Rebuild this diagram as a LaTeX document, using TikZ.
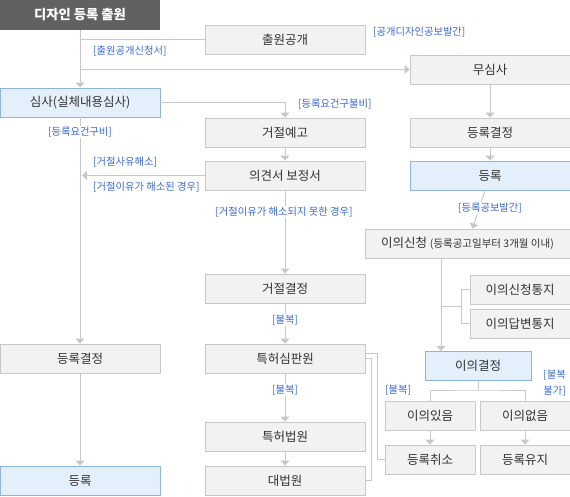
\documentclass[tikz,border=0pt]{standalone}
\usepackage{fontspec}
\setmainfont{Noto Sans CJK KR}
\usepackage{tikz}
\usetikzlibrary{arrows.meta,calc}
\definecolor{HdrFill}{RGB}{97,97,97}
\definecolor{BoxFill}{RGB}{242,242,242}
\definecolor{BoxLine}{RGB}{200,200,200}
\definecolor{RegFill}{RGB}{228,239,252}
\definecolor{RegLine}{RGB}{143,180,220}
\definecolor{LblCol} {RGB}{58,104,210}
\definecolor{TxtCol} {RGB}{51,51,51}
\tikzset{
  nd_hdr/.style={
    rectangle, fill=HdrFill, text=white,
    minimum width=160pt, minimum height=30pt, inner sep=0pt,
    font=\fontsize{13.3}{15}\selectfont\bfseries},
  nd_box/.style={
    rectangle, draw=BoxLine, fill=BoxFill, line width=0.9pt, text=TxtCol,
    minimum width=160pt, minimum height=29pt, inner sep=0pt,
    font=\fontsize{12.5}{14}\selectfont},
  nd_reg/.style={
    nd_box, draw=RegLine, fill=RegFill},
  ln/.style={draw=BoxLine, line width=0.9pt},
  arr/.style={ln, -{Triangle[length=5pt,width=9pt,fill=BoxLine]}},
  lbl/.style={font=\fontsize{10.3}{16}\selectfont, text=LblCol, inner sep=1pt},
  lblw/.style={lbl, fill=white},
}

\begin{document}
\begin{tikzpicture}[x=1pt,y=-1pt]
\useasboundingbox (0,0) rectangle (570,496);

%% 3 columns:  80 | 285 | 490
\def\cA{80}\def\cB{285}\def\cC{490}

%% left column
\node[nd_hdr] at (\cA,15)    (T){디자인 등록 출원};
\node[nd_reg] at (\cA,102.5) (EXAM){심사(실체내용심사)};
\node[nd_box] at (\cA,358.5) (DEC2){등록결정};
\node[nd_reg] at (\cA,480.5) (REG2){등록};

%% middle column
\node[nd_box] at (\cB,39.5)  (PUB){출원공개};
\node[nd_box] at (\cB,132.5) (REJN){거절예고};
\node[nd_box] at (\cB,175.5) (OPIN){의견서 보정서};
\node[nd_box] at (\cB,288.5) (REJD){거절결정};
\node[nd_box] at (\cB,358.5) (TRIB){특허심판원};
\node[nd_box] at (\cB,436.5) (PAT){특허법원};
\node[nd_box] at (\cB,480.5) (SUP){대법원};

%% right column
\node[nd_box] at (\cC,69.5)  (NOEX){무심사};
\node[nd_box] at (\cC,132.5) (DEC1){등록결정};
\node[nd_reg] at (\cC,175.5) (REG1){등록};
\node[nd_box, minimum width=205pt] at (467.5,243.5) (OPP)
  {이의신청 {\fontsize{10.5}{12}\selectfont(등록공고일부터 3개월 이내)}};
\node[nd_box, minimum width=100pt] at (520,289.5) (N1){이의신청통지};
\node[nd_box, minimum width=100pt] at (520,323.5) (N2){이의답변통지};
\node[nd_reg, minimum width=106pt] at (478,366)   (OPD){이의결정};
\node[nd_box, minimum width=90pt]  at (430,415.5) (YES){이의있음};
\node[nd_box, minimum width=90pt]  at (525,415.5) (NO){이의없음};
\node[nd_box, minimum width=90pt]  at (430,459.5) (CANC){등록취소};
\node[nd_box, minimum width=90pt]  at (525,459.5) (KEEP){등록유지};

%% junctions
\coordinate (j1) at (\cA,39.5);
\coordinate (j2) at (\cA,69.5);
\coordinate (oq) at ([xshift=-26.5pt]OPP.south);
\coordinate (nj) at (462,306.5);
\coordinate (dj) at (478,390);

%% arrows
\draw[arr] (T)--(EXAM);
\draw[ln]  (j1)--(PUB.west);
\draw[arr] (j2)--(NOEX.west);
\draw[arr] (EXAM.east) -| (REJN.north);
\draw[arr] (REJN)--(OPIN);
\draw[arr] (OPIN.west)--([xshift=2pt]OPIN.west -| EXAM.south);
\draw[arr] (EXAM)--(DEC2);
\draw[arr] (DEC2)--(REG2);

\draw[arr] (OPIN)--(REJD);
\draw[arr] (REJD)--(TRIB);
\draw[arr] (TRIB)--(PAT);
\draw[arr] (PAT)--(SUP);
\draw[ln]  ([yshift=5pt]TRIB.east) -- ++(12,0) |- (CANC.west);
\draw[ln]  (TRIB.east) -- ++(6,0) |- (SUP.east);

\draw[arr] (NOEX)--(DEC1);
\draw[arr] (DEC1)--(REG1);
\draw[arr] (REG1)--(OPP);
\draw[arr] (oq)--(oq |- OPD.north);
\draw[ln]  (N1.west) -- ++(-8,0) |- (N2.west);
\draw[ln]  (oq |- nj)--(nj);
\draw[ln]  (OPD.south)--(dj);
\draw[ln]  (YES.north) |- (dj) -| (NO.north);
\draw[arr] (YES)--(CANC);
\draw[arr] (NO)--(KEEP);

%% labels
\node[lbl,  anchor=west] at (92,51)   (L1){[출원공개신청서]};
\node[lbl,  anchor=west] at (372,32)  (L2){[공개디자인공보발간]};
\node[lbl,  anchor=west] at (297,104) (L3){[등록요건구불비]};
\node[lblw]              at (\cA,132) (L4){[등록요건구비]};
\node[lbl,  anchor=west] at (92,162)  (L5){[거절사유해소]};
\node[lbl,  anchor=west] at (92,187)  (L6){[거절이유가 해소된 경우]};
\node[lblw]              at (284,212) (L7){[거절이유가 해소되지 못한 경우]};
\node[lblw]              at (\cB,320) (L8){[불복]};
\node[lblw]              at (\cB,390) (L9){[불복]};
\node[lblw]              at (\cC,208) (L10){[등록공보발간]};
\node[lbl,  anchor=west] at (384,390) (L11){[불복]};
\node[lbl,  anchor=east, align=left] at (567,383) (L12){[불복\\불가]};

\end{tikzpicture}
\end{document}
